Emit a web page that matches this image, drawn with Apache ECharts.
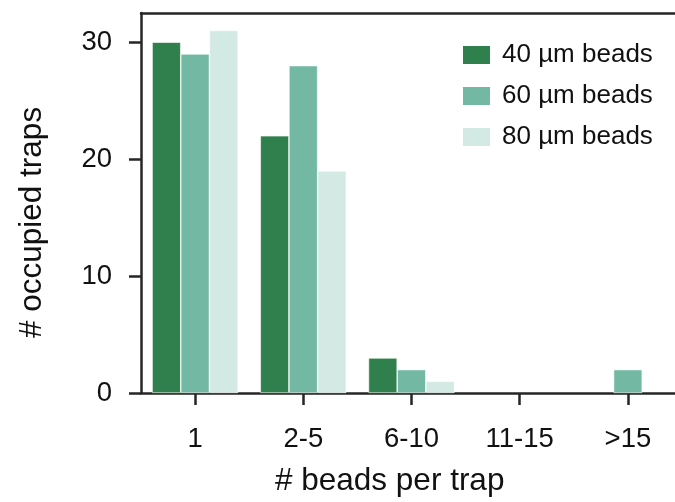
<!DOCTYPE html>
<html><head><meta charset="utf-8">
<script src="https://cdn.jsdelivr.net/npm/echarts@6/dist/echarts.min.js"></script>
<style>html,body{margin:0;padding:0;background:#fff;overflow:hidden;width:675px;height:502px}#c{width:690px;height:502px}</style>
</head><body><div id="c"></div>
<script>
const categories = ['1', '2-5', '6-10', '11-15', '>15'];
const beads40 = [30, 22, 3, 0, 0];
const beads60 = [29, 28, 2, 0, 2];
const beads80 = [31, 19, 1, 0, 0];
const seriesNames = ['40 µm beads', '60 µm beads', '80 µm beads'];
const yTicks = [0, 10, 20, 30];

const FONT = '"Liberation Sans", Arial, sans-serif';
const INK = '#262626';
const colors = ['#30804d', '#72b8a2', '#d3e9e4'];

const chart = echarts.init(document.getElementById('c'), null, {renderer: 'canvas'});
const mk = (name, data, i) => ({
  name, type: 'bar',
  data: data.map(v => v === 0 ? {value: v, itemStyle: {borderWidth: 0}} : v),
  barGap: '0%', barCategoryGap: '20.5%',
  itemStyle: {color: colors[i], borderColor: '#ffffff', borderWidth: 0.6},
  emphasis: {disabled: true}, animation: false
});
chart.setOption({
  animation: false,
  grid: {left: 141, right: 8, top: 13, bottom: 109, containLabel: false},
  legend: {
    orient: 'vertical', left: 456, top: 37, itemWidth: 29, itemHeight: 20, itemGap: 15,
    icon: 'rect', data: seriesNames,
    textStyle: {fontFamily: FONT, fontSize: 26, color: '#111', padding: [0, 0, 0, 6]}
  },
  xAxis: [{
    type: 'category', data: categories, position: 'bottom',
    axisLine: {show: true, lineStyle: {color: INK, width: 2.5}},
    axisTick: {show: true, alignWithLabel: true, length: 12, lineStyle: {color: INK, width: 2.5}},
    axisLabel: {fontFamily: FONT, fontSize: 27.5, color: '#111', margin: 32},
    splitLine: {show: false}
  }, {
    type: 'category', data: categories, position: 'top',
    axisLine: {show: true, lineStyle: {color: INK, width: 2.5}},
    axisTick: {show: false}, axisLabel: {show: false}, splitLine: {show: false}
  }],
  yAxis: {
    type: 'value', min: 0, max: 32.5, interval: 10,
    axisLine: {show: true, lineStyle: {color: INK, width: 2.5}},
    axisTick: {show: true, length: 12, customValues: yTicks, lineStyle: {color: INK, width: 2.5}},
    axisLabel: {fontFamily: FONT, fontSize: 27.5, color: '#111', margin: 29, customValues: yTicks},
    splitLine: {show: false}
  },
  graphic: [
    {type: 'text', left: 275, top: 465, style: {text: '# beads per trap', font: '31.5px "Liberation Sans", Arial, sans-serif', fill: '#111'}},
    {type: 'text', x: 16, y: 338, rotation: Math.PI / 2, style: {text: '# occupied traps', font: '31.5px "Liberation Sans", Arial, sans-serif', fill: '#111', textBaseline: 'top'}}
  ],
  series: [mk(seriesNames[0], beads40, 0), mk(seriesNames[1], beads60, 1), mk(seriesNames[2], beads80, 2)]
});
</script></body></html>
